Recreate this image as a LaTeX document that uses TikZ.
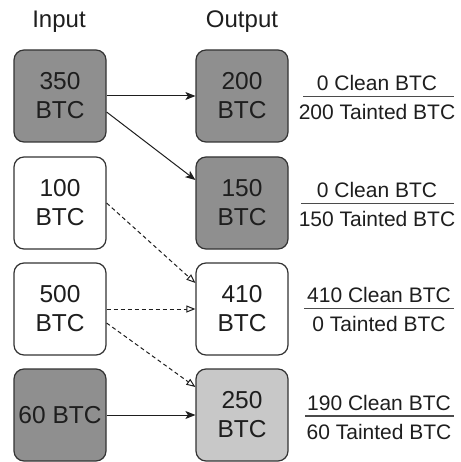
\documentclass[tikz,border=0pt]{standalone}
\usepackage{fontspec}
\setmainfont{Liberation Sans}
\usetikzlibrary{arrows.meta}
\definecolor{ink}{HTML}{1E1E1E}
\definecolor{boxline}{HTML}{333333}
\definecolor{taintfill}{HTML}{8F8F8F}
\definecolor{mixfill}{HTML}{C8C8C8}
\begin{document}
\begin{tikzpicture}[x=1pt,y=-1pt,
  coin/.style={draw=boxline, line width=1.2pt, rounded corners=10pt,
    minimum width=92pt, minimum height=92pt, inner sep=0pt, align=center,
    font=\fontsize{24.5}{29}\selectfont, text=ink},
  tainted/.style={coin, fill=taintfill},
  clean/.style={coin, fill=white},
  mixed/.style={coin, fill=mixfill},
  header/.style={anchor=base, inner sep=0pt, font=\fontsize{24}{28}\selectfont, text=ink},
  share/.style={anchor=base, inner sep=0pt, font=\fontsize{21}{25}\selectfont, text=ink},
  rule/.style={draw=ink!80, line width=1.3pt},
  flow/.style={draw=ink, line width=1pt, -{Stealth[length=10pt,width=8pt,inset=2.5pt]}},
  cleanflow/.style={draw=ink, line width=1pt, dash pattern=on 4pt off 3pt,
    -{Triangle[open,length=9pt,width=7pt,fill=white]}}
]
\useasboundingbox (0,0) rectangle (460,462);

% column headers
\node[header] (hin)  at (59,28)  {Input};
\node[header] (hout) at (242,28) {Output};

% inputs
\node[tainted] (in1) at (60,96)  {350\\BTC};
\node[clean]   (in2) at (60,203) {100\\BTC};
\node[clean]   (in3) at (60,309) {500\\BTC};
\node[tainted] (in4) at (60,415) {60 BTC};

% outputs
\node[tainted] (out1) at (242,96)  {200\\BTC};
\node[tainted] (out2) at (242,203) {150\\BTC};
\node[clean]   (out3) at (242,309) {410\\BTC};
\node[mixed]   (out4) at (242,415) {250\\BTC};

% tainted coin flows
\draw[flow] (in1.east) -- (out1.west);
\draw[flow] ([yshift=-16pt]in1.east) -- ([yshift=23pt]out2.west);
\draw[flow] (in4.east) -- (out4.west);

% clean coin flows
\draw[cleanflow] (in2.east) -- ([yshift=26pt]out3.west);
\draw[cleanflow] (in3.east) -- (out3.west);
\draw[cleanflow] ([yshift=-14pt]in3.east) -- ([yshift=28pt]out4.west);

% clean / tainted split of each output
\node[share] (c1) at (377,90.5)  {0 Clean BTC};
\node[share] (t1) at (377,119.5) {200 Tainted BTC};
\draw[rule] (303,96.5) -- (454,96.5);

\node[share] (c2) at (377,197.5) {0 Clean BTC};
\node[share] (t2) at (377,226.5) {150 Tainted BTC};
\draw[rule] (301,203.5) -- (454,203.5);

\node[share] (c3) at (379,302.5) {410 Clean BTC};
\node[share] (t3) at (379,331.5) {0 Tainted BTC};
\draw[rule] (304,308.5) -- (454,308.5);

\node[share] (c4) at (379,410)   {190 Clean BTC};
\node[share] (t4) at (379,439)   {60 Tainted BTC};
\draw[rule] (305,416) -- (454,416);
\end{tikzpicture}
\end{document}
